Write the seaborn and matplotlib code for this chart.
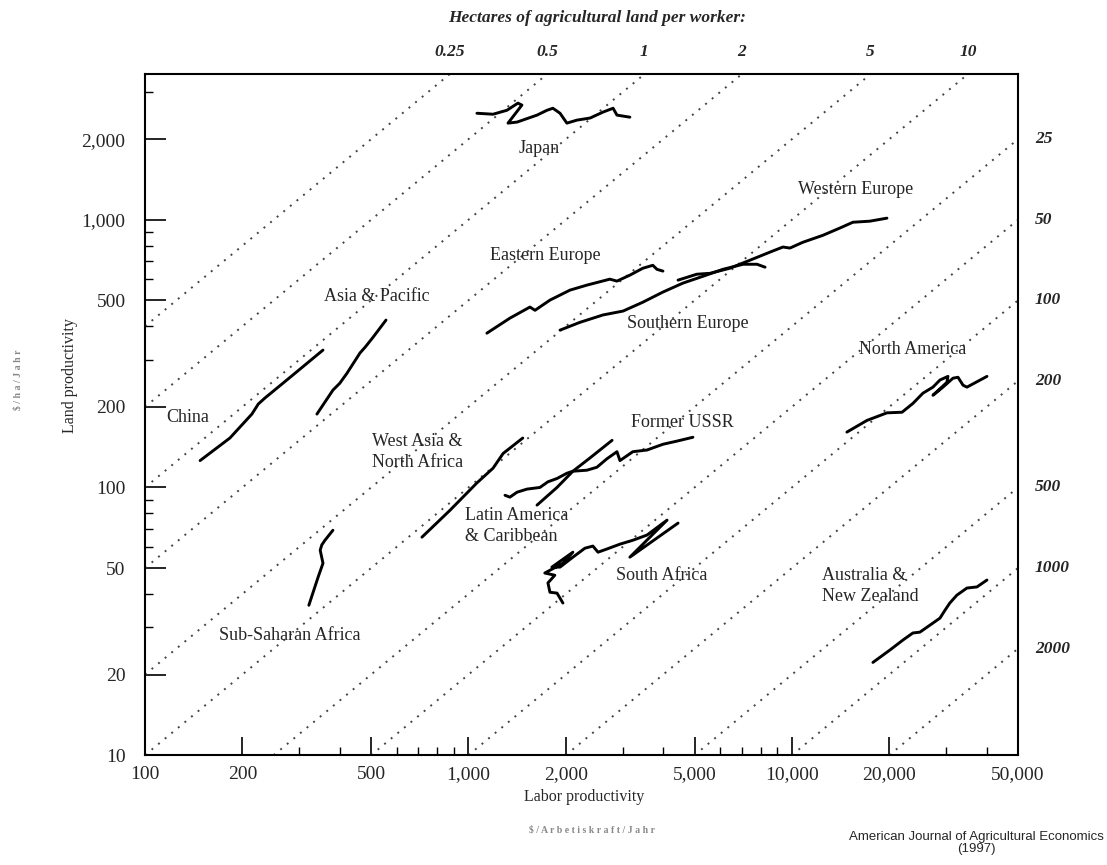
import numpy as np
import pandas as pd
import matplotlib
matplotlib.use("Agg")
import matplotlib.pyplot as plt
import matplotlib.transforms as mtransforms
from matplotlib.ticker import FixedLocator, FuncFormatter, NullFormatter, LogLocator
import seaborn as sns

sns.set_theme(style="white")
plt.rcParams["font.family"] = ["Liberation Serif", "DejaVu Serif"]

# ---------------- data ----------------
hectares_top = [0.25, 0.5, 1, 2, 5, 10]
hectares_right = [25, 50, 100, 200, 500, 1000, 2000]

x_ticks = [100, 200, 500, 1000, 2000, 5000, 10000, 20000, 50000]
y_ticks = [10, 20, 50, 100, 200, 500, 1000, 2000]
x_lim = [100, 50000]
y_lim = [10, 3500]

japan_x = [1062, 1191, 1315, 1422, 1463, 1325, 1413, 1629, 1749, 1824, 1919, 2015, 2163, 2377, 2606, 2800, 2878, 3155]
japan_y = [2500, 2479, 2565, 2727, 2682, 2296, 2317, 2460, 2565, 2610, 2500, 2296, 2356, 2399, 2525, 2610, 2460, 2417]

east_eu_x = [1140, 1343, 1549, 1606, 1786, 2060, 2324, 2736, 2878, 3155, 3459, 3715, 3826, 3993]
east_eu_y = [377, 429, 472, 459, 501, 546, 570, 600, 590, 621, 659, 676, 653, 643]

south_eu_x = [1919, 2213, 2606, 3006, 3459, 3993, 4604, 5309, 6120, 7063, 7801, 8260]
south_eu_y = [387, 414, 441, 456, 492, 537, 580, 615, 653, 682, 682, 665]

west_eu_x = [4446, 5080, 5585, 6425, 7413, 8550, 9380, 9860, 10810, 12470, 14060, 15440, 17420, 19670]
west_eu_y = [595, 626, 631, 659, 706, 757, 791, 784, 824, 875, 931, 979, 988, 1014]

asia_x = [340, 381, 400, 421, 462, 480, 507, 556]
asia_y = [188, 231, 245, 267, 318, 335, 364, 422]

china_x = [148, 183, 214, 224, 235, 281, 355]
china_y = [126, 153, 188, 205, 216, 258, 326]

ssa_x = [321, 343, 355, 348, 352, 360, 381]
ssa_y = [36.3, 46.3, 52.1, 58.3, 61.0, 63.5, 69.2]

wana_x = [718, 877, 1062, 1191, 1280, 1472]
wana_y = [65.2, 82.2, 104, 118, 134, 153]

ussr_x = [1297, 1343, 1413, 1517, 1663, 1761, 1878, 2015, 2103, 2324, 2495, 2680, 2878, 2940, 3222, 3565, 3993, 4413, 4942]
ussr_y = [93.5, 92.0, 96.0, 98.6, 100, 105, 108, 113, 115, 116, 119, 128, 136, 126, 136, 138, 145, 149, 154]

latam_x = [1629, 1878, 2103, 2377, 2780]
latam_y = [85.9, 100, 115, 129, 150]

s_africa_x = [1959, 1878, 1786, 1761, 1849, 1722, 1959, 2103, 1811, 1919, 2103, 2291, 2425, 2515, 2680, 2940, 3222, 3565, 4111, 3155, 4446]
s_africa_y = [37.0, 40.3, 40.6, 44.0, 47.0, 47.9, 52.1, 57.3, 50.4, 50.4, 54.9, 59.3, 60.4, 57.3, 58.9, 61.4, 63.5, 66.4, 75.5, 54.9, 73.6]

n_america_x = [14790, 17060, 19670, 21900, 23660, 25410, 27290, 28690, 30370, 30140, 27290, 29310, 31480, 32620, 33810, 34760, 40090]
n_america_y = [161, 178, 190, 191, 206, 225, 237, 252, 260, 247, 221, 237, 256, 258, 241, 237, 260]

aus_nz_x = [17800, 20090, 22030, 23660, 24870, 26720, 28690, 29740, 30770, 32360, 34760, 37330, 40090]
aus_nz_y = [22.2, 24.7, 26.9, 28.6, 28.8, 30.6, 32.5, 34.8, 37.0, 39.6, 42.1, 42.5, 45.1]

region_names = ["Japan", "Eastern Europe", "Southern Europe", "Western Europe", "Asia & Pacific",
                "China", "Sub-Saharan Africa", "West Asia & North Africa", "Former USSR",
                "Latin America & Caribbean", "South Africa", "North America",
                "Australia & New Zealand"]
region_xs = [japan_x, east_eu_x, south_eu_x, west_eu_x, asia_x, china_x, ssa_x, wana_x,
             ussr_x, latam_x, s_africa_x, n_america_x, aus_nz_x]
region_ys = [japan_y, east_eu_y, south_eu_y, west_eu_y, asia_y, china_y, ssa_y, wana_y,
             ussr_y, latam_y, s_africa_y, n_america_y, aus_nz_y]

label_texts = ["Japan", "Eastern Europe", "Western Europe", "Asia & Pacific", "Southern Europe",
               "North America", "China", "Former USSR", "West Asia &\nNorth Africa",
               "Latin America\n& Caribbean", "South Africa", "Australia &\nNew Zealand",
               "Sub-Saharan Africa"]

# ---------------- build frame ----------------
rows = []
for name, xs, ys in zip(region_names, region_xs, region_ys):
    for i, (a, b) in enumerate(zip(xs, ys)):
        rows.append({"region": name, "step": i, "labor": a, "land": b})
df = pd.DataFrame(rows)

fig = plt.figure(figsize=(11.07, 8.65), dpi=100)
ax = fig.add_axes([0.131, 0.127, 0.7886, 0.7873])
ax.set_xscale("log")
ax.set_yscale("log")
ax.set_xlim(*x_lim)
ax.set_ylim(*y_lim)

# diagonal iso-land-per-worker lines: land = labor / hectares
guide_rows = []
for h in hectares_top + hectares_right:
    x0 = max(x_lim[0], h * y_lim[0])
    x1 = min(x_lim[1], h * y_lim[1])
    for xv in np.geomspace(x0, x1, 2):
        guide_rows.append({"h": h, "labor": xv, "land": xv / h})
gdf = pd.DataFrame(guide_rows)
for h, g in gdf.groupby("h"):
    ax.plot(g["labor"], g["land"], linestyle=(0, (1, 3.4)), color="#444444", lw=1.4, zorder=1)

sns.lineplot(data=df, x="labor", y="land", units="region", estimator=None, sort=False,
             color="black", lw=2.1, ax=ax, legend=False, zorder=3)

# ---------------- axes styling ----------------
for s in ax.spines.values():
    s.set_color("black")
    s.set_linewidth(1.5)
    s.set_visible(True)

ax.xaxis.set_major_locator(FixedLocator(x_ticks))
ax.yaxis.set_major_locator(FixedLocator(y_ticks))
ax.xaxis.set_minor_locator(LogLocator(base=10, subs=np.arange(2, 10), numticks=20))
ax.yaxis.set_minor_locator(LogLocator(base=10, subs=np.arange(2, 10), numticks=20))
ax.xaxis.set_minor_formatter(NullFormatter())
ax.yaxis.set_minor_formatter(NullFormatter())
fmt = FuncFormatter(lambda v, p: f"{int(round(v)):,}")
ax.xaxis.set_major_formatter(fmt)
ax.yaxis.set_major_formatter(fmt)
ax.tick_params(axis="both", which="both", bottom=True, left=True, top=False, right=False)
ax.tick_params(axis="x", which="major", direction="in", length=13, width=1.2,
               color="black", labelsize=14, pad=8)
ax.tick_params(axis="y", which="major", direction="in", length=15, width=1.2,
               color="black", labelsize=14, pad=14)
ax.tick_params(axis="both", which="minor", direction="in", length=6, width=1.0,
               color="black")
ax.set_xlabel("")
ax.set_ylabel("")
ax.grid(False)

# top labels (hectares) where lines meet the top edge
top_tr = mtransforms.blended_transform_factory(ax.transData, ax.transAxes)
for h in hectares_top:
    ax.text(h * y_lim[1], 1.032, f"{h:g}", transform=top_tr, ha="center", va="center",
            fontsize=12.5, fontstyle="italic", fontweight="bold")
# right labels where lines meet the right edge
right_tr = mtransforms.blended_transform_factory(ax.transAxes, ax.transData)
for h in hectares_right:
    ax.text(1.0195, x_lim[1] / h, f"{h:g}", transform=right_tr, ha="left", va="center",
            fontsize=12.5, fontstyle="italic", fontweight="bold")

fig.text(0.539, 0.979, "Hectares of agricultural land per worker:", ha="center", va="center",
         fontsize=12.5, fontstyle="italic", fontweight="bold")

# region labels (axes fraction positions)
label_pos = [(0.452, 0.891, "center"), (0.459, 0.734, "center"), (0.814, 0.830, "center"),
             (0.265, 0.673, "center"), (0.622, 0.634, "center"), (0.879, 0.596, "center"),
             (0.049, 0.496, "center"), (0.615, 0.489, "center"), (0.260, 0.445, "left"),
             (0.367, 0.336, "left"), (0.592, 0.264, "center"), (0.775, 0.248, "left"),
             (0.166, 0.176, "center")]
for txt, (px, py, ha) in zip(label_texts, label_pos):
    ax.text(px, py, txt, transform=ax.transAxes, ha=ha, va="center", fontsize=13,
            linespacing=1.3, zorder=4)

# axis titles
fig.text(0.063, 0.566, "Land productivity", rotation=90, ha="center", va="center", fontsize=11.5)
fig.text(0.016, 0.561, "$ / h a / J a h r", rotation=90, ha="center", va="center",
         fontsize=7, fontweight="bold", color="#888888")
fig.text(0.528, 0.0786, "Labor productivity", ha="center", va="center", fontsize=11.5)
fig.text(0.535, 0.040, "$ / A r b e t i s k r a f t / J a h r", ha="center", va="center",
         fontsize=7, fontweight="bold", color="#888888")
fig.text(0.997, 0.039, "American Journal of Agricultural Economics\n(1997)", ha="right", va="top",
         multialignment="center", fontsize=9.5, family=["Liberation Sans", "DejaVu Sans"],
         linespacing=0.95)

fig.savefig("out.png", dpi=100, facecolor="white")
